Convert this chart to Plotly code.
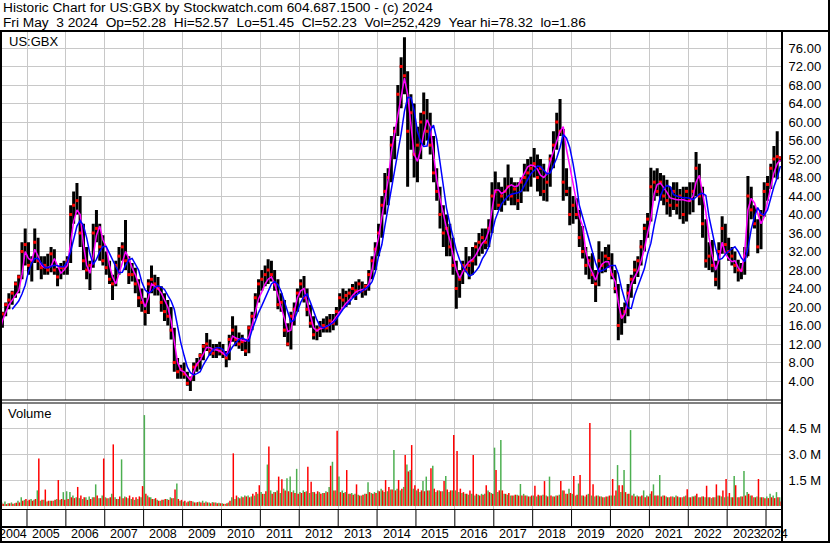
import plotly.graph_objects as go
import pandas as pd

# ---------------- data (monthly, Apr 2004 - May 2024) ----------------
opens = [14, 16, 18.5, 20.5, 21.5, 23, 25, 26.5, 32,
         33.5, 29, 30, 34, 30, 28.5, 29, 28, 31.5, 28, 26.5, 28.5,
         28.5, 30, 40, 42, 43, 36, 30, 28, 29, 36, 37, 33,
         30, 28.5, 26, 25, 29, 31, 33, 30, 27, 27, 25, 22,
         21, 19, 25, 26, 25, 24, 21, 19, 18, 15, 8, 6,
         6.5, 5.5, 3.5, 4.5, 7, 7.5, 9.5, 11.5, 12, 10.5, 10, 11,
         10.5, 10, 9, 13, 15, 13, 12, 12.5, 10.5, 15.5, 18, 22,
         25, 26, 27, 28, 27, 25, 20.5, 21, 15, 12, 18, 19.5,
         23, 25, 22, 19.5, 16.5, 14, 15, 15.5, 16, 15.5, 17, 16.5,
         19, 22, 21.5, 22.5, 23, 24, 23.5, 25, 23.5, 24.5, 27, 30,
         32.5, 36, 42, 45, 48, 55, 58, 66, 72, 70, 58, 62,
         53, 55, 60, 62, 58, 55, 49, 45, 40, 36, 37, 33,
         29, 24, 26, 29, 28, 29, 30, 33, 34, 35, 34, 37,
         44, 45, 42, 44, 45, 46, 44, 45.5, 43, 47, 48, 49,
         50, 51, 48, 50, 45, 47, 52, 55, 60, 58, 47, 45,
         40, 42, 40, 35, 32, 29, 30, 27, 25, 30, 29, 31,
         30.5, 27, 24, 16, 18, 19, 23, 26, 28, 30, 33, 37,
         39, 46, 47, 45, 47, 44, 43, 42, 45, 42, 44, 40,
         45, 43, 45, 50, 44, 38, 30, 31, 29, 26, 32, 37,
         33.5, 32, 31, 29, 28, 28, 31, 44, 41, 38, 33, 40,
         45, 46.5, 50, 52, 52.28]
highs = [16.5, 19, 21, 23, 23.5, 25.5, 27, 34, 37,
         34, 31, 37, 35, 31, 31, 31.5, 33, 32.5, 28.5, 29.5, 30,
         31, 42, 45, 46.8, 44, 38, 33, 30, 38, 41, 38, 35.5,
         32, 30, 27, 30, 33, 34, 38.8, 31, 29.5, 28.5, 26, 24,
         22, 26, 29, 27, 26.5, 24.5, 23, 21.5, 20, 15.5, 9, 7.5,
         8, 6, 5, 8, 9, 10, 12, 14.4, 13, 12, 12, 12.5,
         12, 10.5, 14, 18, 16, 14.5, 14, 13, 16, 19, 23, 26,
         28, 29, 30.3, 30, 28, 26, 23, 21.5, 16.5, 19, 21, 24,
         26, 26.7, 24, 20.5, 18, 16, 17, 17.5, 18, 18.5, 18.5, 20,
         23, 24, 23.5, 24, 25, 25.5, 26, 25.5, 25, 28, 31, 34,
         38, 44, 49, 50, 57, 59, 68, 74, 78.32, 71, 66, 64,
         59, 62, 66.4, 65, 62, 57, 50, 46, 42, 40, 38, 35,
         30, 28, 30, 33, 31, 33, 34, 36, 37, 37, 39, 47,
         49.3, 47, 46, 48, 50.8, 48, 47, 47, 48, 51, 52, 52.5,
         54.4, 53, 52, 51, 49, 53, 58, 62, 65, 58.5, 50, 46,
         44, 43.5, 41, 37.5, 33, 31, 31.6, 28, 34.2, 32, 33, 33.5,
         31.6, 28, 25, 20, 21, 25, 27, 30, 31, 34.5, 38, 40.3,
         50.1, 49.5, 50, 49, 48.5, 47.5, 46, 47, 47, 45.5, 46, 46,
         47, 47, 53.5, 51, 46, 39, 34, 34.5, 30, 34, 39.6, 38,
         35, 33, 32, 30.2, 29.5, 33, 48.3, 46, 42, 39, 41, 47,
         48.3, 51, 54.8, 58, 52.57]
lows = [13.5, 15.5, 18, 19.5, 20.5, 22, 23, 26, 29,
        27, 25.5, 29.5, 28, 26, 27, 27, 27.5, 27, 24.5, 26, 27,
        27, 29.5, 38, 40, 33, 28, 26, 23.7, 28.5, 34, 30, 29,
        27, 25, 21.5, 24.5, 27, 30, 28, 25, 25.5, 23, 20, 19,
        16, 18.5, 23, 22.5, 22.5, 19, 17, 16, 13, 6, 4.5, 4.5,
        4.5, 3, 1.86, 4, 6, 6.5, 8.5, 10.5, 9.5, 9, 9, 9.5,
        9, 7, 8.5, 12.5, 11.5, 11, 10.5, 9.4, 10, 15, 17.5, 21,
        23.5, 24.5, 25, 25.5, 23.5, 19.5, 19, 13.5, 11.5, 10.8, 16, 19,
        22, 21, 18, 15.5, 13, 12.8, 13.5, 14.5, 14.5, 14.5, 15, 16,
        19, 20, 20, 20.5, 22, 21.5, 23, 22, 22.5, 23.5, 26, 28,
        31, 35, 40, 42, 47, 52, 57, 63, 66, 46, 54, 48,
        47, 52, 55, 56, 53, 47, 43, 37, 33, 31, 31, 27,
        19.6, 22, 25, 27.5, 26, 27, 29, 31, 31.5, 32.5, 33, 36,
        41, 41, 40.6, 42, 43, 42, 42, 41, 42.5, 45, 45, 46,
        48, 45, 44, 43, 42.8, 46, 50, 54, 57, 43, 44, 37.7,
        38, 39, 33, 30.5, 27, 26, 25, 21.1, 24.5, 27.3, 27.5, 28.5,
        26, 23, 12.8, 14, 16.5, 18, 22, 25, 26.5, 29, 32, 35,
        38.5, 43, 44, 43, 42, 40, 39.5, 41, 40, 39, 38, 38.5,
        40, 40.5, 44, 42, 35, 28.5, 28, 27.5, 24.5, 23.8, 31.5, 31.5,
        30, 29, 27.3, 25.5, 26, 27, 31, 39, 37, 31.6, 32.5, 39.5,
        43, 45.5, 48, 47.6, 51.45]
closes = [16, 18.5, 20.5, 21.5, 23, 25, 26.5, 32, 33.5,
          29, 30, 34, 30, 28.5, 29, 28, 31.5, 28, 26.5, 28.5, 28.5,
          30, 40, 42, 43, 36, 30, 28, 29, 36, 37, 33, 30,
          28.5, 26, 25, 29, 31, 33, 30, 27, 27, 25, 22, 21,
          19, 25, 26, 25, 24, 21, 19, 18, 15, 8, 6, 6.5,
          5.5, 3.5, 4.5, 7, 7.5, 9.5, 11.5, 12, 10.5, 10, 11, 10.5,
          10, 9, 13, 15, 13, 12, 12.5, 10.5, 15.5, 18, 22, 25,
          26, 27, 28, 27, 25, 20.5, 21, 15, 12, 18, 19.5, 23,
          25, 22, 19.5, 16.5, 14, 15, 15.5, 16, 15.5, 17, 16.5, 19,
          22, 21.5, 22.5, 23, 24, 23.5, 25, 23.5, 24.5, 27, 30, 32.5,
          36, 42, 45, 48, 55, 58, 66, 72, 70, 58, 62, 53,
          55, 60, 62, 58, 55, 49, 45, 40, 36, 37, 33, 29,
          24, 26, 29, 28, 29, 30, 33, 34, 35, 34, 37, 44,
          45, 42, 44, 45, 46, 44, 45.5, 43, 47, 48, 49, 50,
          51, 48, 50, 45, 47, 52, 55, 60, 58, 47, 45, 40,
          42, 40, 35, 32, 29, 30, 27, 25, 30, 29, 31, 30.5,
          27, 24, 16, 18, 19, 23, 26, 28, 30, 33, 37, 39,
          46, 47, 45, 47, 44, 43, 42, 45, 42, 44, 40, 45,
          43, 45, 50, 44, 38, 30, 31, 29, 26, 32, 37, 33.5,
          32, 31, 29, 28, 28, 31, 44, 41, 38, 33, 40, 45,
          46.5, 50, 52, 52.5, 52.23]
ma_fast = [15, 17, 18.8, 20.5, 21.5, 22.5, 23.5, 27, 32,
           30.5, 30, 32.5, 31, 29, 28.5, 28.6, 28.8, 30.5, 29, 27.3, 28,
           29, 34, 38.5, 41, 40, 33.5, 29, 27.3, 31, 35.5, 37.5, 34.5,
           33, 29, 26.5, 25, 27, 29.5, 32, 30.5, 28.5, 27, 25, 22,
           20, 22, 25, 24.5, 24, 23, 21.5, 20, 17, 12.5, 8, 6.3,
           6, 5, 4.2, 6, 7.7, 8.5, 9.8, 11.3, 11.2, 10.8, 10.7, 10.5,
           10, 9.4, 11.5, 13.7, 13.3, 13, 12.8, 12.6, 13.5, 16, 19, 21.8,
           23.3, 25, 26, 26.5, 25, 22.5, 20.5, 17.5, 14.7, 15, 19, 22,
           23.5, 24, 21, 18.2, 15.5, 14.8, 15.3, 15.5, 15.8, 16.2, 17, 18,
           18.8, 19.8, 20.8, 21.5, 22.5, 23.2, 23.6, 23.8, 23.8, 25, 28, 32,
           35, 39.5, 43.5, 47.5, 53.5, 57.5, 61.5, 66, 69.5, 66, 59, 53,
           51.5, 54, 57.5, 60.5, 59, 53, 47.5, 43.5, 40, 37, 34.5, 31.5,
           28, 26.2, 27.5, 29, 29.8, 30.3, 31.2, 32.5, 33.8, 34.5, 36.5, 41,
           45.3, 45.3, 44.5, 45, 46, 46.4, 46, 46.2, 47.5, 49, 50.3, 50.7,
           50.5, 49.8, 48.5, 48, 48.8, 51.5, 53.7, 55.5, 58, 59, 54, 50.5,
           46.5, 42.5, 39.5, 37.5, 32, 29, 27.5, 25.8, 28, 29.3, 29.8, 29.8,
           27, 25.5, 21, 17.5, 18.5, 22, 25, 26.5, 27.8, 30, 32.5, 36,
           39, 44.5, 46.5, 46.8, 45.9, 44.8, 43.6, 43.4, 43.2, 43.2, 43.2, 43,
           42.9, 44, 47, 48.5, 44.5, 40.5, 35, 31, 28, 30, 34, 31.5,
           30.5, 29.8, 30, 28.5, 27.6, 32, 41, 43.5, 42.5, 40.3, 38, 39.5,
           43, 46.5, 49, 51, 51.8]
ma_slow = [None, None, None, None, 19.5, 20.5, 21.3, 22.8, 24.7,
           27.7, 29.5, 30.5, 30.5, 29.5, 28.6, 28.5, 28.8, 29, 28.9, 28.7, 28.7,
           29.8, 32, 34.5, 37.5, 38.7, 37.6, 35, 31.5, 29.2, 30.3, 32, 33.1,
           33.1, 31.5, 30.3, 28.7, 27.4, 27.5, 29, 30.2, 30.5, 29.3, 28, 25.4,
           23.7, 23, 23.4, 24.2, 24.6, 24.3, 23.8, 22.5, 21.3, 19.5, 15.8, 12.3,
           9.5, 7, 5.8, 5.3, 5.6, 6, 7.5, 8.8, 9.9, 10.8, 11.2, 11.2,
           10.8, 9.5, 10.2, 11.4, 12.3, 13, 13.3, 13, 12.6, 15, 17, 18.8,
           20.3, 22, 23.6, 25, 25.5, 24.8, 23.4, 21.2, 18.8, 16.8, 17.2, 19,
           21, 22.3, 22.8, 21, 19, 17.2, 15.8, 15.5, 15.8, 16.2, 16.6, 17.4,
           18.5, 19.5, 20.2, 21.1, 21.9, 22.5, 22.9, 23.5, 24, 24.5, 25.5, 27.5,
           31, 33.5, 37.5, 41.5, 45.5, 50, 53.5, 57.5, 62.3, 65.3, 65.3, 62.5,
           58, 55.7, 54.7, 54.8, 58.2, 59.3, 56.3, 51.5, 46, 41.4, 38, 35,
           32.3, 30.2, 28.6, 27.7, 26.7, 27, 27.7, 28.7, 30.4, 31.5, 33, 36,
           39, 40.8, 42.3, 43.2, 44, 44.4, 44.5, 44.7, 45, 46.2, 47.6, 48.8,
           49.5, 50.5, 50.4, 49.6, 48.8, 49, 50.5, 52.2, 54.5, 57.3, 56.5, 54.5,
           51, 46.8, 42, 39.3, 37, 34.5, 32, 29.5, 27.6, 27.9, 28.2, 28.8,
           29, 29, 27.2, 24, 21.5, 19.8, 19.7, 22.5, 24.5, 26.4, 28.3, 31.5,
           33.8, 37.7, 41.1, 44.1, 45.6, 46.3, 46, 44.3, 44, 43.8, 43.6, 43.6,
           43.5, 43.2, 43.8, 44.4, 44.6, 44.1, 39.5, 35.7, 32.7, 30.2, 30.5, 31.4,
           32.1, 32.6, 33, 32, 30.6, 29.8, 32.7, 36.8, 39.5, 41.5, 40.2, 39.9,
           41, 43.8, 46, 48, 50.5]
# volume in millions of shares (up-day and down-day peaks per month)
vol_up = [0.12, 0.2, 0.25, 0.15, 0.2, 0.15, 0.3, 0.5, 0.35,
          0.3, 0.4, 0.35, 0.9, 0.3, 0.35, 0.25, 0.3, 0.3, 0.4, 0.35, 0.8,
          0.85, 0.8, 0.6, 0.5, 0.45, 0.4, 0.5, 0.55, 0.5, 1.25, 0.45, 0.6,
          0.5, 0.45, 0.7, 0.5, 0.4, 2.7, 0.55, 0.45, 0.4, 0.35, 0.4, 0.5,
          5.27, 0.6, 0.5, 0.4, 0.35, 0.3, 0.35, 0.4, 0.5, 0.45, 1.3, 0.3,
          0.25, 0.2, 0.3, 0.25, 0.2, 0.25, 0.3, 0.25, 0.2, 0.22, 0.2, 0.18,
          0.15, 0.12, 0.2, 0.5, 0.4, 0.5, 0.55, 0.6, 0.6, 0.55, 0.6, 0.7,
          0.8, 0.7, 2.4, 0.9, 0.8, 0.9, 0.75, 1.0, 1.6, 1.7, 0.9, 2.15,
          0.8, 0.9, 0.85, 0.75, 0.8, 0.7, 0.8, 0.75, 0.85, 1.1, 2.56, 0.9,
          1.7, 0.9, 0.8, 0.7, 0.75, 0.7, 0.65, 0.6, 0.7, 1.37, 0.75, 0.8,
          0.9, 1.0, 0.8, 0.85, 0.95, 3.24, 1.0, 0.9, 1.1, 2.4, 2.08, 1.0,
          0.9, 0.8, 1.44, 1.7, 0.9, 2.33, 0.8, 0.9, 0.85, 1.73, 0.8, 0.9,
          0.9, 0.8, 0.75, 0.7, 0.65, 0.7, 0.6, 0.65, 0.7, 0.7, 0.9, 0.75,
          3.38, 0.8, 3.82, 0.7, 0.65, 0.6, 0.6, 0.65, 1.27, 0.7, 0.6, 0.55,
          0.6, 0.55, 0.6, 0.65, 0.6, 1.7, 0.55, 0.6, 0.65, 0.9, 0.7, 1.0,
          0.7, 0.6, 1.3, 0.6, 0.55, 0.7, 0.6, 0.55, 0.6, 0.55, 0.5, 0.55,
          0.6, 0.6, 2.37, 0.8, 2.08, 0.7, 4.4, 0.7, 0.6, 0.55, 0.9, 0.6,
          0.7, 1.25, 0.6, 1.79, 0.6, 0.55, 0.5, 0.55, 0.6, 0.5, 0.5, 0.6,
          0.5, 0.55, 0.6, 0.5, 0.55, 0.5, 0.5, 0.45, 0.5, 0.6, 0.55, 0.5,
          0.55, 0.5, 1.73, 0.5, 0.55, 2.02, 0.8, 0.6, 0.5, 0.55, 0.5, 0.5,
          0.55, 0.7, 0.6, 0.8, 0.5]
vol_down = [0.1, 0.12, 0.1, 0.15, 0.12, 0.18, 0.2, 0.3, 0.4,
            0.35, 0.3, 0.4, 2.75, 0.35, 0.95, 0.3, 0.3, 0.35, 1.5, 0.4, 0.35,
            0.4, 0.5, 0.45, 1.1, 0.6, 0.5, 0.35, 0.4, 0.5, 0.6, 0.45, 2.75,
            0.45, 0.5, 3.57, 0.4, 0.55, 0.45, 0.5, 0.6, 0.5, 0.5, 0.55, 1.15,
            0.7, 0.5, 0.4, 0.45, 0.3, 0.35, 0.4, 0.35, 0.45, 0.95, 0.4, 0.35,
            0.3, 0.25, 0.28, 0.2, 0.22, 0.2, 0.18, 0.2, 0.15, 0.2, 0.15, 0.15,
            0.12, 0.15, 0.3, 3.05, 0.6, 0.45, 0.5, 0.55, 0.5, 0.7, 0.8, 1.2,
            0.7, 0.85, 3.44, 0.7, 0.8, 1.7, 1.55, 0.9, 0.85, 0.8, 0.75, 0.7,
            0.75, 0.8, 2.27, 1.4, 0.8, 0.85, 0.7, 0.75, 0.8, 2.33, 0.9, 4.36,
            0.8, 0.75, 2.08, 0.7, 0.65, 1.25, 0.6, 0.65, 0.7, 0.8, 0.7, 0.75,
            0.85, 0.9, 1.5, 1.1, 0.95, 0.9, 1.5, 1.0, 2.95, 2.0, 3.53, 1.2,
            1.0, 0.9, 0.85, 0.9, 2.18, 1.0, 0.9, 0.85, 1.44, 0.95, 0.9, 4.11,
            3.18, 1.0, 0.8, 0.7, 0.9, 2.95, 0.7, 0.6, 0.65, 1.2, 0.8, 0.7,
            2.08, 0.9, 0.9, 0.7, 0.75, 0.6, 0.65, 0.6, 0.6, 0.6, 0.55, 0.6,
            1.17, 0.65, 0.6, 1.44, 0.55, 0.6, 0.55, 0.6, 1.44, 0.9, 0.7, 0.75,
            1.73, 0.65, 1.79, 0.6, 0.65, 4.81, 1.25, 0.6, 0.55, 0.5, 0.55, 0.6,
            1.56, 0.9, 1.2, 1.2, 0.8, 0.7, 0.6, 0.55, 0.55, 0.6, 0.5, 0.55,
            0.85, 0.6, 0.6, 0.55, 0.6, 0.5, 0.55, 0.5, 0.55, 0.5, 0.55, 0.97,
            0.5, 0.55, 0.7, 0.5, 0.55, 1.17, 0.5, 0.5, 1.25, 0.6, 0.9, 1.56,
            0.75, 0.5, 1.2, 0.5, 0.55, 0.6, 0.7, 0.6, 0.5, 1.56, 0.5, 0.45,
            0.45, 0.5, 0.45, 0.5, 0.25]
price_ticks = [4, 8, 12, 16, 20, 24, 28, 32, 36, 40, 44, 48, 52, 56, 60, 64, 68, 72, 76]
vol_ticks = [1.5, 3.0, 4.5]
vol_tick_text = ["1.5 M", "3.0 M", "4.5 M"]
years = list(range(2004, 2025))
header1 = "Historic Chart for US:GBX by Stockwatch.com 604.687.1500 - (c) 2024"
header2 = ("Fri May\u00a0\u00a03 2024\u00a0\u00a0Op=52.28\u00a0\u00a0Hi=52.57\u00a0\u00a0Lo=51.45"
           "\u00a0\u00a0Cl=52.23\u00a0\u00a0Vol=252,429\u00a0\u00a0Year hi=78.32\u00a0\u00a0lo=1.86")

n = len(closes)
for name, arr in [("opens", opens), ("highs", highs), ("lows", lows), ("ma_fast", ma_fast),
                  ("ma_slow", ma_slow), ("vol_up", vol_up), ("vol_down", vol_down)]:
    assert len(arr) == n, (name, len(arr), n)

dates = list(pd.date_range("2004-04-01", periods=n, freq="MS") + pd.Timedelta(days=14))
dates[0] = pd.Timestamp("2004-04-26")

# ---------------- geometry ----------------
W, H = 830, 543
ML, MR, MT, MB = 0, 48, 31, 34
PW, PH = W - ML - MR, H - MT - MB
def px(p):
    return (p - ML) / PW
def py(p):
    return (H - MB - p) / PH

x_start, x_end = pd.Timestamp("2004-04-22 12:00"), pd.Timestamp("2024-05-30")
def dx(d):
    return (pd.Timestamp(d) - x_start) / (x_end - x_start)

FONT = "Liberation Sans, Arial, sans-serif"
GRID = "#c8c8c8"
half_month = 14 * 24 * 3600 * 1000

fig = go.Figure()
fig.add_trace(go.Ohlc(x=dates, open=opens, high=highs, low=lows, close=closes,
                      increasing=dict(line=dict(color="black", width=3)),
                      decreasing=dict(line=dict(color="black", width=3)),
                      tickwidth=0.4, xaxis="x", yaxis="y", hoverinfo="skip"))
fig.add_trace(go.Scatter(x=dates, y=closes, mode="markers",
                         marker=dict(color="#ff0000", size=3, symbol="square", line=dict(width=0)),
                         xaxis="x", yaxis="y", hoverinfo="skip"))
fig.add_trace(go.Scatter(x=dates, y=ma_fast, mode="lines", line=dict(color="#ff00ff", width=1.5),
                         xaxis="x", yaxis="y", hoverinfo="skip"))
fig.add_trace(go.Scatter(x=dates, y=ma_slow, mode="lines", line=dict(color="#0000ff", width=1.5),
                         xaxis="x", yaxis="y", hoverinfo="skip", connectgaps=False))
fig.add_trace(go.Bar(x=dates, y=vol_up, marker=dict(color="#4caf50", line=dict(width=0)),
                     width=half_month, offset=-half_month, xaxis="x2", yaxis="y2", hoverinfo="skip"))
fig.add_trace(go.Bar(x=dates, y=vol_down, marker=dict(color="#ff0000", line=dict(width=0)),
                     width=half_month, offset=0, xaxis="x2", yaxis="y2", hoverinfo="skip"))

xcommon = dict(type="date", range=[x_start, x_end], showticklabels=False, ticks="",
               showgrid=True, gridcolor=GRID, gridwidth=1, tick0="2005-01-01", dtick="M12",
               zeroline=False, showline=False, domain=[0, 1])

shapes = []
def line(x0, y0, x1, y1, w=1):
    shapes.append(dict(type="line", xref="paper", yref="paper", x0=x0, y0=y0, x1=x1, y1=y1,
                       line=dict(color="black", width=w), layer="above"))

line(0, py(31), px(W), py(31), 2)            # header separator
line(px(1), py(31), px(1), py(543), 2)       # left border
line(px(829), py(0), px(829), py(543), 2)    # right border
line(0, py(542), px(W), py(542), 2)          # bottom border
line(1, py(31), 1, py(543), 2)               # price-axis separator
line(0, py(400), 1, py(400), 1)              # double line between panels
line(0, py(403), 1, py(403), 1)
line(0, py(509.5), 1, py(509.5), 1)          # year band top
line(0, py(527), 1, py(527), 2)              # year band middle
for yr in years[1:]:
    xp = dx(f"{yr}-01-01")
    line(xp, py(509.5), xp, py(527), 1)

annotations = [
    dict(text=header1, x=px(2), y=py(7.5), xanchor="left", yanchor="middle", font=dict(size=13.7)),
    dict(text=header2, x=px(2), y=py(22.5), xanchor="left", yanchor="middle", font=dict(size=13.7)),
    dict(text="US:GBX", x=px(8), y=py(41.5), xanchor="left", yanchor="middle"),
    dict(text="Volume", x=px(7), y=py(413), xanchor="left", yanchor="middle"),
]
for yr in years:
    a = max(pd.Timestamp(f"{yr}-01-01"), x_start)
    b = min(pd.Timestamp(f"{yr + 1}-01-01"), x_end)
    annotations.append(dict(text=str(yr), x=dx(a + (b - a) / 2), y=py(534),
                            xanchor="center", yanchor="middle", font=dict(size=12.5)))
for a in annotations:
    a.update(xref="paper", yref="paper", showarrow=False, borderpad=0)
    a.setdefault("font", {})
    a["font"].update(family=FONT, color="black")
    a["font"].setdefault("size", 13)

fig.update_layout(
    width=W, height=H, margin=dict(l=ML, r=MR, t=MT, b=MB, pad=0),
    paper_bgcolor="white", plot_bgcolor="white", showlegend=False,
    barmode="overlay", font=dict(family=FONT, size=13, color="black"),
    xaxis=dict(**xcommon, anchor="y", rangeslider=dict(visible=False)),
    xaxis2=dict(**xcommon, anchor="y2", matches="x"),
    yaxis=dict(domain=[py(400), 1], range=[-0.108, 79.68], side="right", anchor="x",
               tickvals=price_ticks, ticktext=[f"{v:.2f}" for v in price_ticks],
               showgrid=True, gridcolor=GRID, gridwidth=1, zeroline=False, showline=False,
               ticks="outside", ticklen=3, tickcolor="rgba(0,0,0,0)",
               tickfont=dict(family=FONT, size=13, color="black")),
    yaxis2=dict(domain=[0, py(404)], range=[-0.18, 5.913], side="right", anchor="x2",
                tickvals=vol_ticks, ticktext=vol_tick_text,
                showgrid=True, gridcolor=GRID, gridwidth=1, zeroline=False, showline=False,
                ticks="outside", ticklen=3, tickcolor="rgba(0,0,0,0)",
                tickfont=dict(family=FONT, size=13, color="black")),
    shapes=shapes, annotations=annotations,
)

fig.write_html("out.html", config={"displayModeBar": False, "staticPlot": True},
               post_script="document.body.style.margin='0';document.body.style.overflow='hidden';")
